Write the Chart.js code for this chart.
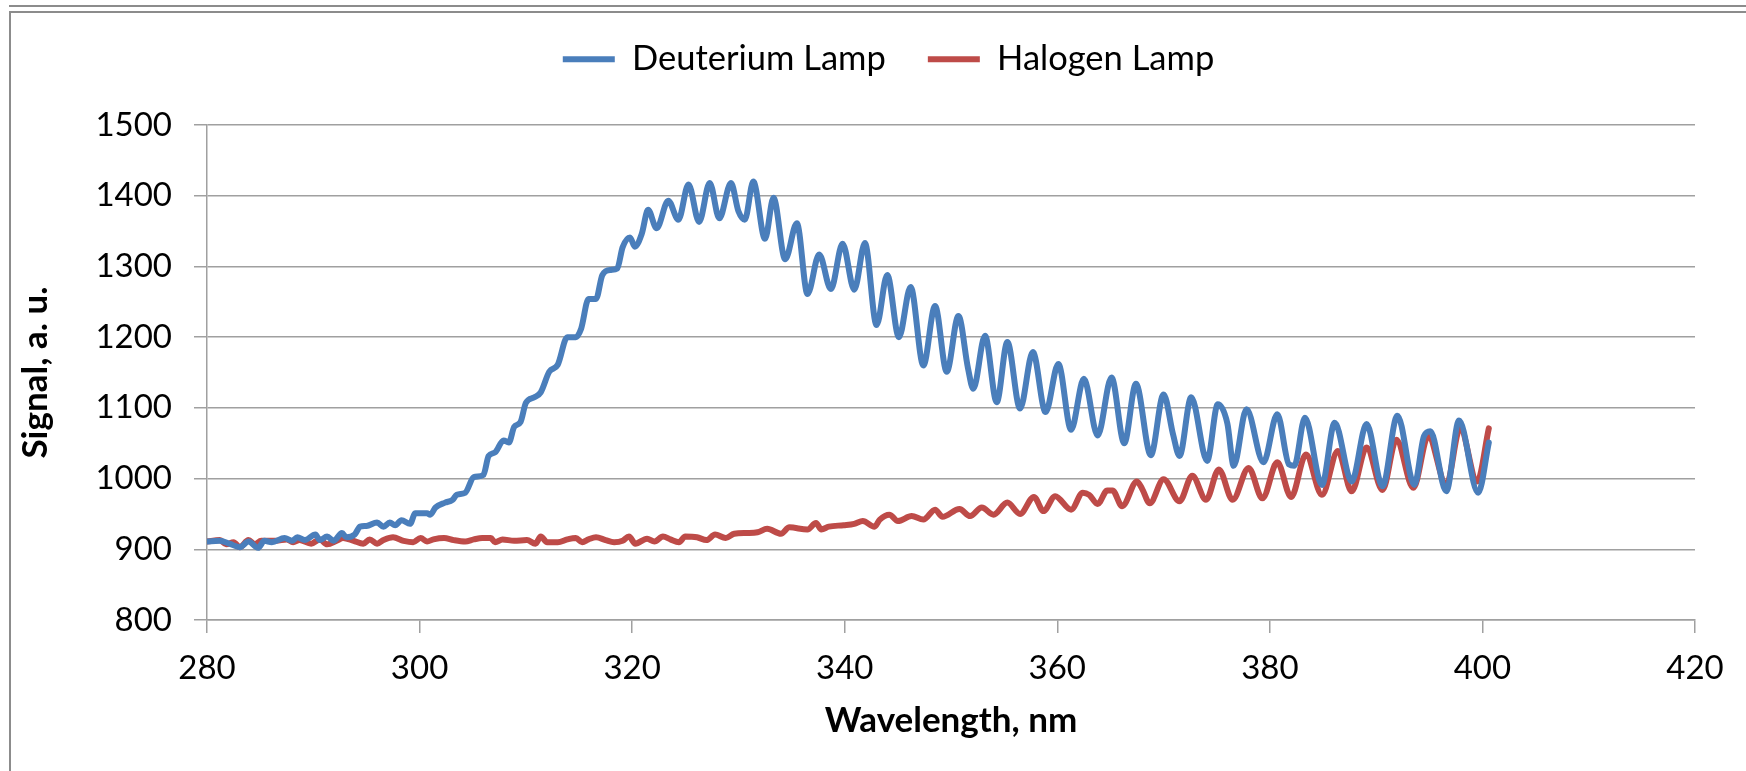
<!DOCTYPE html>
<html>
<head>
<meta charset="UTF-8">
<title>Deuterium / Halogen lamp spectrum</title>
<script src="https://cdn.jsdelivr.net/npm/chart.js"></script>
<style type="text/css">
	html, body { margin: 0; padding: 0; background: #fff; overflow: hidden; }
	#wrap { position: relative; width: 1746px; height: 771px; }
	.frame1 { position: absolute; left: 9px; top: 5px; right: 0; height: 0; border-top: 2px solid #8c8c8c; }
	.frame2 { position: absolute; left: 9px; top: 11px; right: 0; bottom: 0; border-top: 2px solid #8c8c8c; border-left: 2px solid #8c8c8c; }
	#myChart { position: absolute; left: 0; top: 0; }
</style>
</head>
<body>
<div id="wrap">
	<div class="frame1"></div>
	<div class="frame2"></div>
	<canvas id="myChart" width="1746" height="771"></canvas>
</div>
<script>
// wavelength (nm) / signal pairs
var deutWl = [280.0, 281.2, 282.1, 283.1, 283.9, 284.8, 285.4, 286.1, 287.3, 288.0, 288.5, 289.2, 290.2, 290.6, 291.3, 291.9,
	292.7, 293.1, 293.9, 294.4, 295.0, 296.0, 296.6, 297.2, 297.7, 298.3, 299.1, 299.6, 300.7, 301.0, 301.5, 302.4,
	303.1, 303.5, 304.3, 305.1, 306.0, 306.5, 307.1, 307.9, 308.4, 308.9, 309.5, 310.0, 310.8, 311.4, 312.2, 313.0,
	313.9, 314.7, 315.2, 315.9, 316.6, 317.2, 318.0, 318.6, 319.1, 319.8, 320.25, 320.9, 321.5, 322.3, 323.4, 324.35,
	325.3, 326.3, 327.3, 328.2, 329.3, 330.0, 330.6, 331.4, 332.5, 333.3, 334.4, 335.5, 336.5, 337.6, 338.7, 339.8,
	340.9, 341.9, 343.0, 344.0, 345.1, 346.2, 347.4, 348.5, 349.6, 350.7, 351.6, 352.1, 353.2, 354.3, 355.3, 356.5,
	357.7, 358.9, 360.1, 361.3, 362.5, 363.8, 365.1, 366.3, 367.4, 368.8, 370.0, 370.9, 371.5, 372.6, 374.1, 375.1,
	376.0, 376.6, 377.8, 379.4, 380.7, 381.8, 382.3, 383.3, 384.9, 386.1, 387.7, 389.1, 390.6, 392.0, 393.6, 394.5,
	395.1, 396.6, 397.8, 399.6, 400.6];
var deutSig = [911, 912, 908, 903, 911, 902, 912, 910, 916, 912, 917, 913, 921, 913, 918, 912,
	923, 917, 921, 932, 933, 938, 932, 938, 934, 941, 936, 951, 951, 949, 959, 966,
	970, 977, 980, 1002, 1005, 1032, 1037, 1054, 1051, 1073, 1080, 1107, 1115, 1122, 1151, 1161,
	1200, 1200, 1212, 1254, 1254, 1288, 1295, 1297, 1327, 1341, 1328, 1346, 1380, 1354, 1393, 1366,
	1416, 1363, 1418, 1368, 1418, 1378, 1366, 1420, 1339, 1397, 1310, 1361, 1261, 1317, 1268, 1332,
	1267, 1333, 1217, 1288, 1200, 1271, 1160, 1244, 1151, 1230, 1156, 1127, 1202, 1108, 1193, 1099,
	1179, 1094, 1162, 1069, 1141, 1061, 1143, 1050, 1134, 1033, 1119, 1062, 1032, 1115, 1025, 1105,
	1078, 1018, 1098, 1023, 1091, 1020, 1018, 1086, 991, 1079, 996, 1077, 989, 1089, 991, 1060,
	1067, 982, 1082, 980, 1051];

var haloWl = [280.0, 281.2, 281.8, 282.5, 283.1, 283.9, 284.5, 285.1, 286.5, 287.5, 288.1, 288.7, 289.8, 290.6, 291.3, 292.2,
	292.8, 293.8, 294.7, 295.3, 296.0, 296.6, 297.5, 298.5, 299.4, 300.1, 300.7, 301.3, 302.3, 303.2, 304.3, 305.1,
	305.9, 306.7, 307.1, 307.8, 308.9, 310.1, 310.9, 311.4, 312.0, 313.0, 313.9, 314.7, 315.3, 315.9, 316.6, 317.5,
	318.3, 319.1, 319.7, 320.3, 321.4, 322.1, 322.9, 323.6, 324.4, 325.0, 326.1, 327.0, 327.8, 328.8, 329.6, 330.8,
	331.8, 332.7, 334.0, 334.8, 336.5, 337.3, 337.8, 338.5, 339.9, 340.9, 341.7, 342.8, 343.3, 344.2, 345.0, 346.3,
	347.4, 348.5, 349.2, 350.8, 351.8, 352.9, 354.0, 355.3, 356.5, 357.8, 358.7, 359.8, 361.3, 362.4, 363.0, 363.8,
	364.7, 365.2, 366.1, 367.5, 368.0, 368.7, 370.0, 371.5, 372.7, 374.0, 375.2, 376.5, 378.0, 379.3, 380.7, 382.0,
	383.4, 384.9, 386.4, 387.7, 389.1, 390.6, 391.9, 393.5, 394.9, 396.6, 397.9, 399.5, 400.6];
var haloSig = [911, 913, 907, 910, 903, 913, 907, 912, 912, 914, 910, 913, 908, 914, 907, 912,
	916, 912, 908, 914, 908, 913, 917, 912, 910, 916, 911, 914, 916, 913, 911, 914,
	916, 916, 910, 914, 912, 913, 908, 918, 910, 910, 914, 916, 910, 914, 917, 913,
	910, 912, 918, 908, 915, 911, 918, 914, 910, 918, 917, 913, 921, 916, 922, 923,
	924, 929, 922, 931, 928, 937, 928, 932, 934, 936, 940, 932, 942, 949, 940, 947,
	942, 956, 946, 957, 947, 959, 949, 966, 950, 974, 954, 975, 956, 980, 977, 964,
	983, 983, 961, 996, 985, 965, 999, 968, 1004, 970, 1013, 970, 1015, 972, 1023, 974,
	1034, 977, 1039, 982, 1044, 984, 1055, 987, 1060, 991, 1071, 996, 1071];

var seriesNames = ['Deuterium Lamp', 'Halogen Lamp'];
var seriesColors = ['#4a7ebb', '#be4b48'];
var xRange = [280, 420, 20];
var yRange = [800, 1500, 100];

function toPoints(xs, ys) {
	var pts = [];
	for (var i = 0; i < xs.length; i++) pts.push({x: xs[i], y: ys[i]});
	return pts;
}

var FONT = 'Lato, "Open Sans", sans-serif';
var GRID = '#a0a0a0';

var ctx = document.getElementById('myChart').getContext('2d');
var myChart = new Chart(ctx, {
	type: 'line',
	data: {
		datasets: [{
			label: seriesNames[0],
			data: toPoints(deutWl, deutSig),
			borderColor: seriesColors[0],
			backgroundColor: seriesColors[0],
			borderWidth: 6
		}, {
			label: seriesNames[1],
			data: toPoints(haloWl, haloSig),
			borderColor: seriesColors[1],
			backgroundColor: seriesColors[1],
			borderWidth: 6
		}]
	},
	options: {
		responsive: false,
		animation: false,
		devicePixelRatio: 1,
		layout: { padding: { left: 82, right: 51, top: 0, bottom: 0 } },
		elements: {
			point: { radius: 0, hoverRadius: 0 },
			line: { cubicInterpolationMode: 'monotone', borderCapStyle: 'round', borderJoinStyle: 'round', fill: false }
		},
		plugins: {
			tooltip: { enabled: false },
			legend: {
				position: 'top',
				labels: {
					usePointStyle: true,
					pointStyle: 'line',
					pointStyleWidth: 52,
					padding: 42,
					color: '#000',
					font: { family: FONT, size: 34.5 }
				}
			},
			// empty title used only as a spacer between legend and plot
			title: {
				display: true,
				text: '',
				position: 'top',
				weight: 500,
				font: { size: 10, lineHeight: 1 },
				padding: { top: 28.5, bottom: 0 }
			}
		},
		scales: {
			x: {
				type: 'linear',
				min: xRange[0],
				max: xRange[1],
				afterFit: function(scale) { scale.height = 151; },
				ticks: { stepSize: xRange[2], padding: 16, color: '#000', font: { family: FONT, size: 33 } },
				grid: { drawOnChartArea: false, drawTicks: true, tickLength: 13, color: GRID, lineWidth: 1.5 },
				border: { color: GRID, width: 1.5 },
				title: {
					display: true,
					text: 'Wavelength, nm',
					color: '#000',
					font: { family: FONT, size: 35, weight: 'bold' },
					padding: { top: 0, bottom: 29 }
				}
			},
			y: {
				min: yRange[0],
				max: yRange[1],
				afterFit: function(scale) { scale.width = 125; },
				ticks: {
					stepSize: yRange[2],
					padding: 22,
					color: '#000',
					font: { family: FONT, size: 33 },
					callback: function(v) { return String(v); }
				},
				grid: { drawTicks: true, tickLength: 13, color: GRID, lineWidth: 1.5 },
				border: { color: GRID, width: 1.5 },
				title: {
					display: true,
					text: 'Signal, a. u.',
					color: '#000',
					font: { family: FONT, size: 35, weight: 'bold' },
					padding: { top: -67, bottom: 0 }
				}
			}
		}
	}
});
</script>
</body>
</html>
